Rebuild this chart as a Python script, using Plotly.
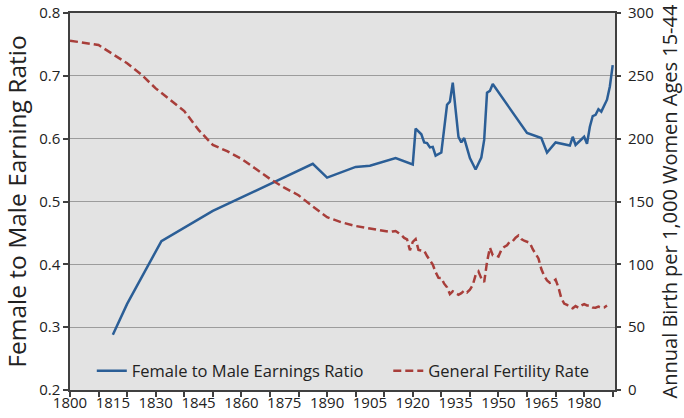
import plotly.graph_objects as go

# Female to male earnings ratio (left axis)
ratio_years = [1815, 1820, 1832, 1850, 1885, 1890, 1900, 1905, 1914, 1920, 1921, 1923,
               1924, 1925, 1926, 1927, 1928, 1930, 1932, 1933, 1934, 1936, 1937, 1938,
               1939, 1940, 1942, 1943, 1944, 1945, 1946, 1947, 1948, 1960, 1965, 1967,
               1970, 1975, 1976, 1977, 1980, 1981, 1982, 1983, 1984, 1985, 1986, 1988,
               1989, 1990]
ratio_values = [0.288, 0.337, 0.437, 0.485, 0.560, 0.538, 0.555, 0.557, 0.569, 0.559, 0.616, 0.607,
                0.594, 0.593, 0.586, 0.587, 0.573, 0.578, 0.654, 0.659, 0.689, 0.603, 0.594, 0.601,
                0.585, 0.569, 0.551, 0.562, 0.570, 0.598, 0.673, 0.676, 0.687, 0.609, 0.601, 0.578,
                0.594, 0.589, 0.603, 0.590, 0.603, 0.592, 0.619, 0.636, 0.638, 0.647, 0.643, 0.662,
                0.683, 0.717]

# General fertility rate (right axis)
gfr_years = [1800, 1810, 1820, 1825, 1830, 1835, 1840, 1845, 1850, 1855, 1860, 1865, 1870,
             1875, 1880, 1885, 1890, 1895, 1900, 1905, 1909] + list(range(1910, 1989))
gfr_values = [278, 274.5, 260, 251, 240, 231, 222, 207, 195, 190, 184, 176, 168,
              161, 155, 146, 137.5, 133.5, 130.5, 128.5, 127,
              126.8, 126.3, 125.8, 126.2, 126.5, 125.0, 123.4, 121.0, 119.8, 111.2,
              117.9, 120.0, 111.5, 111.0, 110.9, 106.6, 102.6, 99.8, 93.8, 89.3,
              89.2, 84.6, 81.7, 76.3, 78.5, 77.2, 75.8, 77.1, 79.1, 77.6,
              79.9, 83.4, 91.5, 94.3, 88.8, 85.9, 101.9, 113.3, 107.3, 107.1,
              106.2, 111.5, 113.9, 115.2, 118.1, 118.5, 121.2, 122.9, 120.2, 118.8,
              118.0, 117.1, 112.0, 108.3, 104.7, 96.3, 90.8, 87.2, 85.2, 86.1,
              87.9, 81.6, 73.1, 68.8, 67.8, 66.0, 65.0, 66.8, 65.5, 67.2,
              68.4, 67.3, 67.3, 65.7, 65.5, 66.3, 65.4, 65.7, 67.2]

x_labels = list(range(1800, 1981, 15))
left_ticks = [0.2, 0.3, 0.4, 0.5, 0.6, 0.7, 0.8]
right_ticks = [0, 50, 100, 150, 200, 250, 300]

FONT = "Open Sans"
BLUE = "#2B5E96"
RED = "#A83E3A"
XR = [1800, 1990.8]

fig = go.Figure()
fig.add_trace(go.Scatter(x=ratio_years, y=ratio_values, mode="lines",
                         name="Female to Male Earnings Ratio",
                         line=dict(color=BLUE, width=2.5), xaxis="x", yaxis="y",
                         legend="legend"))
fig.add_trace(go.Scatter(x=gfr_years, y=gfr_values, mode="lines",
                         name="General Fertility Rate",
                         line=dict(color=RED, width=2.5, dash="8px,4px"),
                         xaxis="x2", yaxis="y2", legend="legend2"))

leg_common = dict(orientation="h", xanchor="left", y=0.05, yanchor="middle",
                  bgcolor="rgba(0,0,0,0)", font=dict(size=16.5, color="#222222"),
                  itemwidth=30)

fig.update_layout(
    width=684, height=418,
    margin=dict(l=70, r=69, t=13, b=28, autoexpand=False),
    paper_bgcolor="white", plot_bgcolor="#E3E3E3",
    font=dict(family=FONT, size=15, color="#222222"),
    showlegend=True,
    legend=dict(x=0.040, **leg_common),
    legend2=dict(x=0.584, **leg_common),
    xaxis=dict(range=XR, tickmode="linear", tick0=1800, dtick=10, showticklabels=False,
               ticks="outside", ticklen=5, tickwidth=1.5, tickcolor="#404040",
               showgrid=False, zeroline=False, showline=True, linecolor="#404040",
               linewidth=1.5, mirror=True, automargin=False),
    xaxis2=dict(range=XR, overlaying="x", anchor="y2", side="bottom",
                tickmode="array", tickvals=x_labels, ticktext=[str(v) for v in x_labels],
                ticks="", ticklabelstandoff=2,
                showgrid=False, zeroline=False, showline=False, automargin=False,
                tickfont=dict(size=15)),
    yaxis=dict(range=[0.2, 0.8], tickmode="array", tickvals=left_ticks,
               ticktext=["%.1f" % v for v in left_ticks],
               ticks="outside", ticklen=5, tickwidth=1.5, tickcolor="#404040",
               showgrid=True, gridcolor="#9C9C9C", gridwidth=1, zeroline=False,
               showline=True, linecolor="#404040", linewidth=1.5, mirror=True,
               automargin=False,
               title=dict(text="Female to Male Earning Ratio", font=dict(size=24.5), standoff=11)),
    yaxis2=dict(range=[0, 300], overlaying="y", side="right", anchor="x",
                tickmode="array", tickvals=right_ticks,
                ticks="outside", ticklen=5, tickwidth=1.5, tickcolor="#404040",
                ticklabelstandoff=4,
                showgrid=False, zeroline=False, showline=False, automargin=False,
                title=dict(text="Annual Birth per 1,000 Women Ages 15-44",
                           font=dict(size=20), standoff=10)),
)

fig.write_html("out.html", config={"displayModeBar": False},
               post_script="document.body.style.margin='0';document.body.style.overflow='hidden';")
